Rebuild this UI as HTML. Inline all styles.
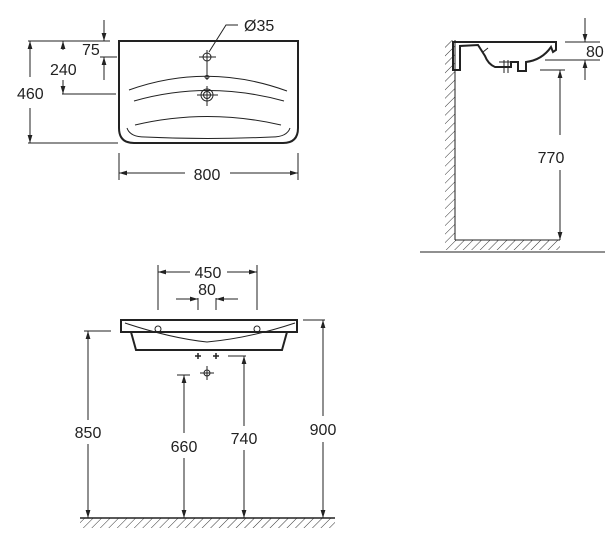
<!DOCTYPE html>
<html><head><style>
html,body{margin:0;padding:0;background:#fff;}
svg{display:block;}
text{font-family:"Liberation Sans",sans-serif;font-size:16px;fill:#222;}
</style></head><body>
<svg width="612" height="547" viewBox="0 0 612 547" xmlns="http://www.w3.org/2000/svg">
<defs>
<marker id="a" viewBox="0 0 10 6" refX="10" refY="3" markerWidth="8" markerHeight="5" orient="auto-start-reverse" markerUnits="userSpaceOnUse"><path d="M0,0L10,3L0,6z" fill="#222"/></marker>
<pattern id="h" width="6" height="6" patternUnits="userSpaceOnUse" patternTransform="rotate(45)"><line x1="0" y1="0" x2="0" y2="6" stroke="#333" stroke-width="1"/></pattern>
</defs>
<g stroke="#222" fill="none" stroke-width="1">
<!-- TOP VIEW -->
<path d="M119,41 H298 V128 Q298,143 283,143 H134 Q119,143 119,128 Z" stroke-width="2"/>
<path d="M129,90 Q207,62 287,91" /><path d="M134,101 Q207,80 284,101"/>
<path d="M135,125 Q207,108 281,125"/>
<path d="M127,128 Q130,137 145,137 Q207,140 272,137 Q287,137 290,128"/>
<circle cx="207" cy="57" r="4"/><line x1="199" y1="57" x2="216" y2="57"/><line x1="207" y1="50" x2="207" y2="80"/>
<ellipse cx="207" cy="77" rx="2" ry="1.5"/>
<circle cx="207" cy="95" r="6"/><circle cx="207" cy="95" r="3.5"/><line x1="197" y1="95" x2="218" y2="95"/><line x1="207" y1="86" x2="207" y2="106"/>
<path d="M209,52 L226,25 H238"/>
<line x1="28" y1="41" x2="110" y2="41"/><line x1="28" y1="143" x2="118" y2="143"/>
<line x1="30" y1="77" x2="30" y2="41" marker-end="url(#a)"/><line x1="30" y1="108" x2="30" y2="143" marker-end="url(#a)"/>
<line x1="62" y1="94" x2="116" y2="94"/>
<line x1="63" y1="50" x2="63" y2="41" marker-end="url(#a)"/><line x1="63" y1="80" x2="63" y2="94" marker-end="url(#a)"/>
<line x1="100" y1="57" x2="117" y2="57"/>
<line x1="104" y1="20" x2="104" y2="41" marker-end="url(#a)"/><line x1="104" y1="80" x2="104" y2="57" marker-end="url(#a)"/>
<line x1="119" y1="153" x2="119" y2="180"/><line x1="298" y1="153" x2="298" y2="180"/>
<line x1="185" y1="173" x2="119" y2="173" marker-end="url(#a)"/><line x1="230" y1="173" x2="298" y2="173" marker-end="url(#a)"/>
<!-- SIDE VIEW -->
<rect x="445" y="40" width="10" height="210" fill="url(#h)" stroke="none"/>
<rect x="455" y="240" width="105" height="10" fill="url(#h)" stroke="none"/>
<line x1="455" y1="40" x2="455" y2="240"/><line x1="455" y1="240" x2="560" y2="240"/>
<line x1="420" y1="252" x2="605" y2="252"/>
<path d="M453,42 H556 V50 L553,52 L551,47 Q542,60 526,62 L526,71 L518,71 L518,62 L511,62 L511,67 L495,67 Q488,64 485,56 L478,45 L460,46 V70 L453,70 Z" stroke-width="2"/>
<line x1="488" y1="48" x2="483" y2="52"/><line x1="504" y1="60" x2="504" y2="73"/><line x1="508" y1="60" x2="508" y2="73"/><line x1="499" y1="62" x2="512" y2="62"/>
<line x1="565" y1="42" x2="600" y2="42"/><line x1="545" y1="60" x2="600" y2="60"/><line x1="540" y1="70" x2="565" y2="70"/>
<line x1="585" y1="18" x2="585" y2="42" marker-end="url(#a)"/><line x1="585" y1="80" x2="585" y2="60" marker-end="url(#a)"/>
<line x1="560" y1="135" x2="560" y2="70" marker-end="url(#a)"/><line x1="560" y1="170" x2="560" y2="240" marker-end="url(#a)"/>
<!-- FRONT VIEW -->
<path d="M121,320 H297 V332 H121 Z" stroke-width="2"/>
<path d="M131,332 L136,350 H282 L287,332" stroke-width="2"/>
<path d="M125,323 Q170,338 207,342 Q250,338 295,323"/>
<circle cx="158" cy="329" r="3"/><circle cx="257" cy="329" r="3"/>
<line x1="158" y1="265" x2="158" y2="310"/><line x1="257" y1="265" x2="257" y2="310"/>
<line x1="190" y1="272" x2="158" y2="272" marker-end="url(#a)"/><line x1="227" y1="272" x2="257" y2="272" marker-end="url(#a)"/>
<line x1="198" y1="298" x2="198" y2="310"/><line x1="216" y1="298" x2="216" y2="310"/>
<line x1="176" y1="299" x2="198" y2="299" marker-end="url(#a)"/><line x1="238" y1="299" x2="216" y2="299" marker-end="url(#a)"/>
<path d="M195,356h6M198,353v6M213,356h6M216,353v6" stroke-width="1.5"/>
<circle cx="207" cy="373" r="3"/><line x1="200" y1="373" x2="214" y2="373"/><line x1="207" y1="366" x2="207" y2="380"/>
<rect x="80" y="518" width="255" height="10" fill="url(#h)" stroke="none"/>
<line x1="80" y1="518" x2="335" y2="518" stroke-width="1.5"/>
<line x1="84" y1="331" x2="111" y2="331"/><line x1="303" y1="320" x2="325" y2="320"/>
<line x1="177" y1="375" x2="190" y2="375"/><line x1="228" y1="356" x2="246" y2="356"/>
<line x1="88" y1="420" x2="88" y2="331" marker-end="url(#a)"/><line x1="88" y1="444" x2="88" y2="518" marker-end="url(#a)"/>
<line x1="184" y1="433" x2="184" y2="375" marker-end="url(#a)"/><line x1="184" y1="458" x2="184" y2="518" marker-end="url(#a)"/>
<line x1="244" y1="426" x2="244" y2="356" marker-end="url(#a)"/><line x1="244" y1="450" x2="244" y2="518" marker-end="url(#a)"/>
<line x1="323" y1="416" x2="323" y2="320" marker-end="url(#a)"/><line x1="323" y1="442" x2="323" y2="518" marker-end="url(#a)"/>
</g>
<text x="244" y="31">Ø35</text>
<text x="82" y="55">75</text>
<text x="50" y="75">240</text>
<text x="17" y="99">460</text>
<text x="207" y="180" text-anchor="middle">800</text>
<text x="586" y="57">80</text>
<text x="551" y="163" text-anchor="middle">770</text>
<text x="208" y="278" text-anchor="middle">450</text>
<text x="207" y="295" text-anchor="middle">80</text>
<text x="88" y="438" text-anchor="middle">850</text>
<text x="184" y="452" text-anchor="middle">660</text>
<text x="244" y="444" text-anchor="middle">740</text>
<text x="323" y="435" text-anchor="middle">900</text>
</svg>
</body></html>
